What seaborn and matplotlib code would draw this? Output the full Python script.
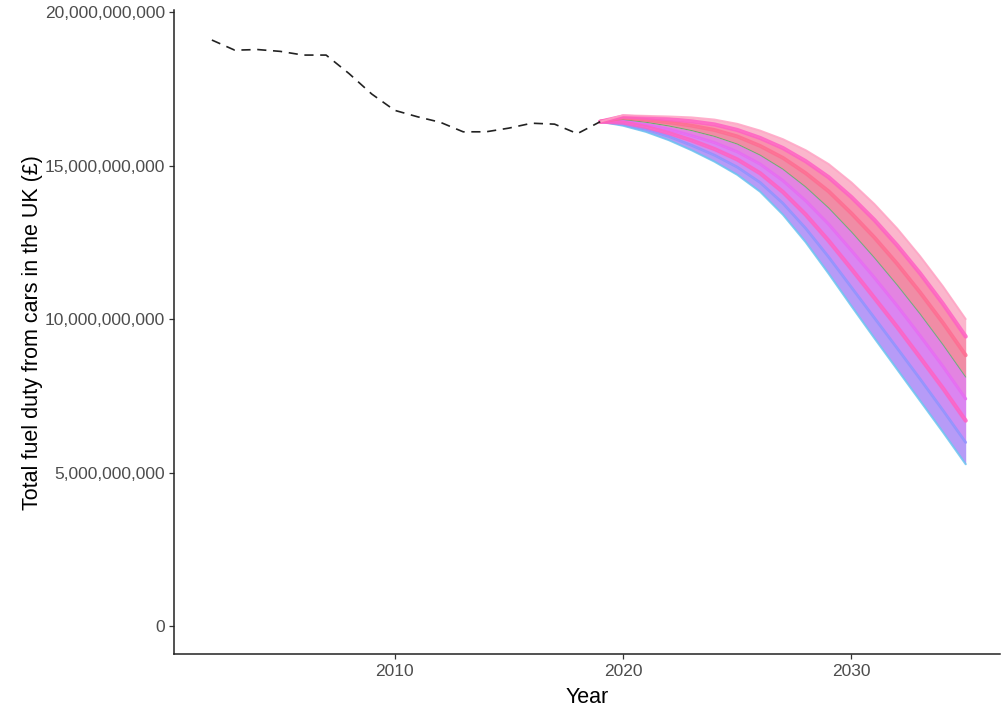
import matplotlib.pyplot as plt
import matplotlib.ticker as mticker
import pandas as pd
import seaborn as sns

# historical fuel duty (billion GBP), 2002-2019
hist_years = list(range(2002, 2020))
hist_duty = [19.09, 18.76, 18.78, 18.72, 18.60, 18.60, 18.00, 17.33, 16.80,
             16.59, 16.41, 16.10, 16.10, 16.22, 16.38, 16.35, 16.04, 16.43]

# projected scenarios (billion GBP), 2019-2035, lowest to highest
proj_years = list(range(2019, 2036))
proj_a = [16.43, 16.30, 16.10, 15.83, 15.50, 15.13, 14.70, 14.15, 13.40,
          12.50, 11.48, 10.42, 9.38, 8.36, 7.34, 6.32, 5.27]
proj_b = [16.43, 16.35, 16.18, 15.95, 15.66, 15.34, 14.95, 14.45, 13.77,
          12.95, 12.02, 11.03, 10.04, 9.05, 8.05, 7.03, 5.98]
proj_c = [16.43, 16.40, 16.26, 16.06, 15.82, 15.54, 15.20, 14.75, 14.14,
          13.40, 12.55, 11.63, 10.69, 9.74, 8.75, 7.75, 6.69]
proj_d = [16.43, 16.45, 16.33, 16.18, 15.98, 15.75, 15.45, 15.05, 14.51,
          13.85, 13.09, 12.23, 11.35, 10.43, 9.46, 8.46, 7.40]
proj_e = [16.43, 16.50, 16.41, 16.29, 16.14, 15.95, 15.70, 15.34, 14.88,
          14.30, 13.62, 12.84, 12.00, 11.11, 10.17, 9.17, 8.11]
proj_f = [16.43, 16.56, 16.49, 16.41, 16.30, 16.16, 15.95, 15.64, 15.25,
          14.75, 14.16, 13.44, 12.66, 11.80, 10.87, 9.88, 8.82]
proj_g = [16.43, 16.60, 16.56, 16.51, 16.44, 16.34, 16.16, 15.90, 15.57,
          15.14, 14.62, 13.97, 13.23, 12.40, 11.49, 10.50, 9.43]
proj_h = [16.43, 16.64, 16.62, 16.60, 16.57, 16.50, 16.36, 16.14, 15.86,
          15.50, 15.05, 14.45, 13.75, 12.95, 12.05, 11.07, 10.00]

scenarios = [proj_a, proj_b, proj_c, proj_d, proj_e, proj_f, proj_g, proj_h]
line_colors = ["#6CC3F0", "#8F93FF", "#FF61C3", "#E76BF3",
               "#00BA38", "#FF6C91", "#FF61C3", "#FFA3C4"]
band_colors = ["#A98AF6", "#C47BF2", "#D570EF", "#DE6EDC",
               "#EE7896", "#F77E9F", "#FBAAC4"]
widths = [1.5, 2.0, 3.0, 2.2, 0.7, 2.8, 3.0, 1.4]
alphas = [0.85, 0.85, 0.85, 0.85, 0.55, 0.85, 0.85, 0.85]
draw_order = [0, 1, 3, 4, 2, 5, 6, 7]

hist = pd.DataFrame({"Year": hist_years, "Duty": [v * 1e9 for v in hist_duty]})
proj = pd.concat(
    [pd.DataFrame({"Year": proj_years, "Duty": [v * 1e9 for v in s], "Scenario": i})
     for i, s in enumerate(scenarios)],
    ignore_index=True,
)

sns.set_theme(style="ticks")
plt.rcParams["font.family"] = ["Liberation Sans", "DejaVu Sans"]

fig = plt.figure(figsize=(10.05, 7.11), dpi=100)
ax = fig.add_axes([0.1731, 0.0795, 0.8219, 0.9065])

# shaded bands between neighbouring scenarios
for i in range(len(scenarios) - 1):
    lo = proj[proj.Scenario == i]
    hi = proj[proj.Scenario == i + 1]
    ax.fill_between(lo.Year.values, lo.Duty.values, hi.Duty.values,
                    color=band_colors[i], alpha=0.85, linewidth=0)

# scenario lines, pinks on top
for i in draw_order:
    sns.lineplot(data=proj[proj.Scenario == i], x="Year", y="Duty",
                 color=line_colors[i], linewidth=widths[i], alpha=alphas[i], ax=ax)

sns.lineplot(data=hist, x="Year", y="Duty", color="#222222", linewidth=1.2, ax=ax)
ax.lines[-1].set_dashes((5.5, 4))

ax.set_xlim(2000.34, 2036.5)
ax.set_ylim(-0.928e9, 20.07e9)
ax.set_xticks([2010, 2020, 2030])
ax.set_yticks([0, 5e9, 10e9, 15e9, 20e9])
ax.yaxis.set_major_formatter(mticker.FuncFormatter(lambda v, p: "{:,.0f}".format(v)))

ax.set_xlabel("Year", fontsize=15.5, color="black", labelpad=6)
ax.set_ylabel("Total fuel duty from cars in the UK (£)", fontsize=15.5,
              color="black", labelpad=1)
ax.tick_params(axis="both", labelsize=12.5, labelcolor="#4D4D4D", color="#333333",
               length=3.5, width=0.9, pad=3)
for side in ["left", "bottom"]:
    ax.spines[side].set_color("#222222")
    ax.spines[side].set_linewidth(1.1)
sns.despine(ax=ax)

fig.savefig("out.png", dpi=100)
